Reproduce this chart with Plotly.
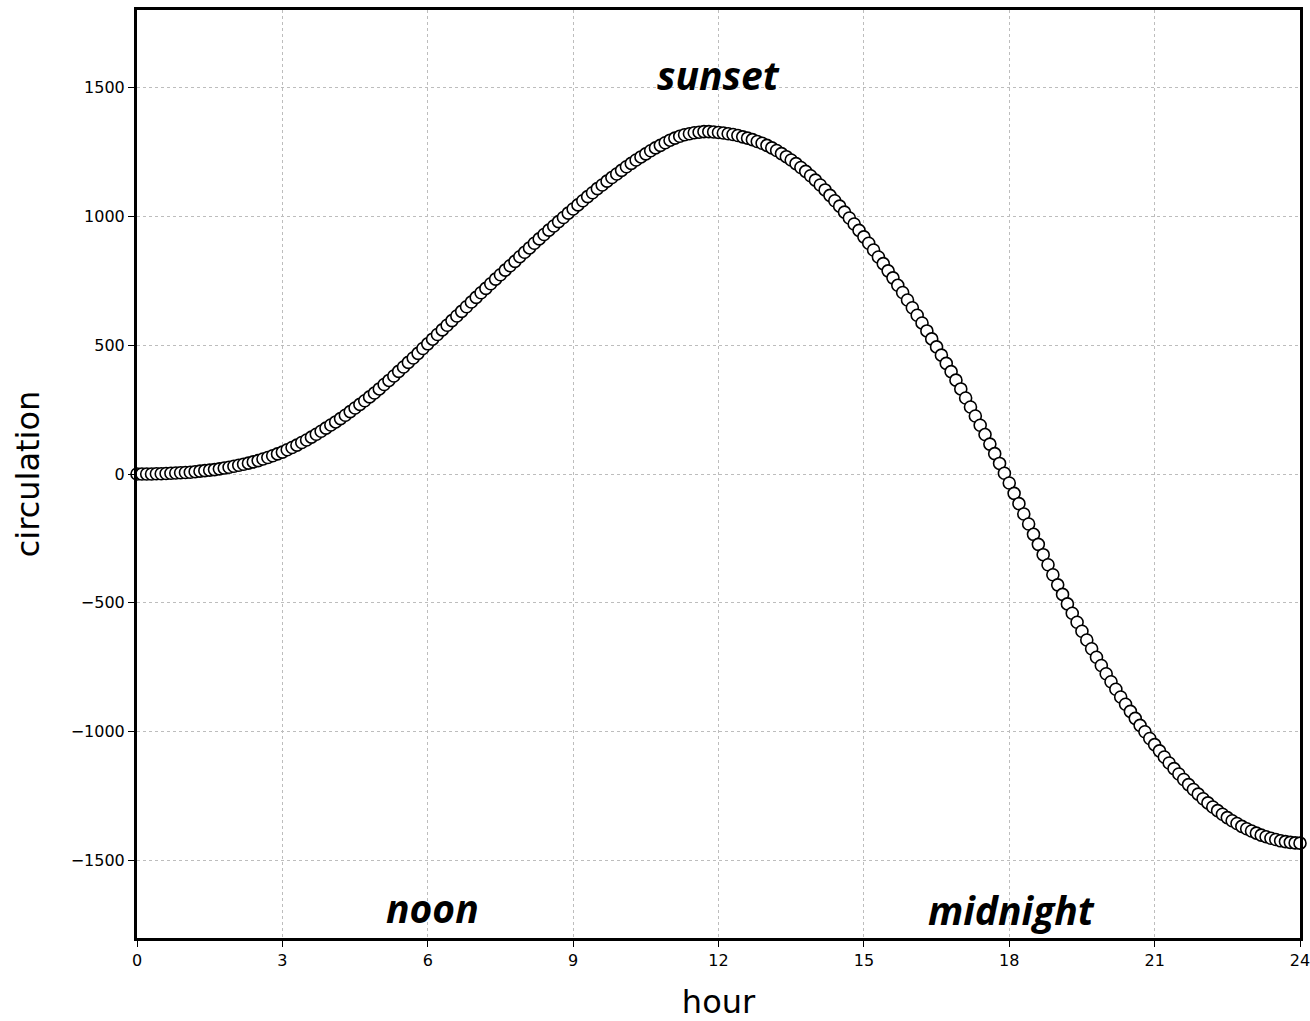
import plotly.graph_objects as go

# hour of day, sampled every 0.1 h
hours = [round(i * 0.1, 1) for i in range(241)]

# circulation read at each sample, hour by hour (10 values per hour)
circ_00 = [0, 0, 0, 0, 1, 1, 2, 3, 4, 5]
circ_01 = [6, 7, 9, 11, 13, 15, 17, 20, 23, 26]
circ_02 = [30, 34, 38, 42, 47, 52, 58, 64, 71, 78]
circ_03 = [85, 94, 103, 112, 122, 132, 143, 154, 166, 178]
circ_04 = [190, 202, 215, 228, 242, 256, 270, 284, 299, 314]
circ_05 = [330, 347, 363, 380, 398, 415, 433, 450, 468, 487]
circ_06 = [505, 523, 541, 559, 577, 595, 613, 631, 649, 667]
circ_07 = [685, 703, 720, 738, 756, 773, 791, 808, 825, 843]
circ_08 = [860, 877, 895, 912, 929, 946, 962, 979, 995, 1012]
circ_09 = [1028, 1044, 1060, 1076, 1091, 1107, 1121, 1136, 1150, 1164]
circ_10 = [1178, 1192, 1205, 1218, 1230, 1242, 1254, 1265, 1275, 1285]
circ_11 = [1295, 1303, 1310, 1316, 1320, 1324, 1326, 1328, 1328, 1327]
circ_12 = [1325, 1323, 1320, 1317, 1313, 1308, 1303, 1297, 1290, 1283]
circ_13 = [1275, 1265, 1255, 1243, 1231, 1218, 1204, 1189, 1174, 1157]
circ_14 = [1140, 1121, 1102, 1081, 1060, 1039, 1016, 993, 970, 945]
circ_15 = [920, 895, 869, 842, 816, 788, 761, 732, 704, 675]
circ_16 = [645, 616, 586, 555, 524, 493, 461, 429, 397, 364]
circ_17 = [330, 295, 260, 225, 189, 153, 116, 79, 41, 3]
circ_18 = [-35, -75, -115, -155, -194, -234, -273, -313, -352, -391]
circ_19 = [-430, -467, -504, -540, -575, -610, -644, -678, -711, -743]
circ_20 = [-775, -806, -835, -865, -893, -921, -948, -975, -1000, -1026]
circ_21 = [-1050, -1074, -1098, -1121, -1143, -1164, -1185, -1205, -1224, -1242]
circ_22 = [-1260, -1276, -1292, -1306, -1320, -1333, -1345, -1356, -1367, -1376]
circ_23 = [-1385, -1393, -1401, -1407, -1413, -1418, -1423, -1426, -1429, -1431]
circ_24 = [-1432]

circulation = (circ_00 + circ_01 + circ_02 + circ_03 + circ_04 + circ_05 + circ_06
               + circ_07 + circ_08 + circ_09 + circ_10 + circ_11 + circ_12 + circ_13
               + circ_14 + circ_15 + circ_16 + circ_17 + circ_18 + circ_19 + circ_20
               + circ_21 + circ_22 + circ_23 + circ_24)

x_ticks = [0, 3, 6, 9, 12, 15, 18, 21, 24]
y_ticks = [-1500, -1000, -500, 0, 500, 1000, 1500]

# labelled times of day: (text, hour, circulation level)
day_labels = [("sunset", 12, 1550), ("noon", 6.1, -1680), ("midnight", 18.05, -1690)]

fig = go.Figure()
fig.add_trace(go.Scatter(
    x=hours, y=circulation, mode="markers",
    marker=dict(symbol="circle", size=12, color="white",
                line=dict(color="black", width=1.6)),
    showlegend=False, cliponaxis=False,
))

for text, hx, hy in day_labels:
    fig.add_annotation(x=hx, y=hy, text=f"<b><i>{text}</i></b>", showarrow=False,
                       font=dict(family="Open Sans", size=39, color="black"))

axis_common = dict(
    showline=True, linecolor="black", linewidth=3, mirror=True,
    ticks="outside", ticklen=6, tickwidth=1, tickcolor="black",
    showgrid=True, gridcolor="#bdbdbd", gridwidth=1, griddash="dot",
    zeroline=False, automargin=False, ticklabeloverflow="allow",
    tickfont=dict(family="DejaVu Sans", size=16, color="black"),
)

fig.update_xaxes(range=[0, 24], tickvals=x_ticks, **axis_common,
                 title=dict(text="hour", standoff=24,
                            font=dict(family="DejaVu Sans", size=32, color="black")))
fig.update_yaxes(range=[-1800, 1800], tickvals=y_ticks, **axis_common,
                 title=dict(text="circulation", standoff=22,
                            font=dict(family="DejaVu Sans", size=32, color="black")))

fig.update_layout(
    width=1310, height=1021,
    margin=dict(l=137, r=10, t=10, b=83),
    plot_bgcolor="white", paper_bgcolor="white",
)

fig.write_html("out.html")
